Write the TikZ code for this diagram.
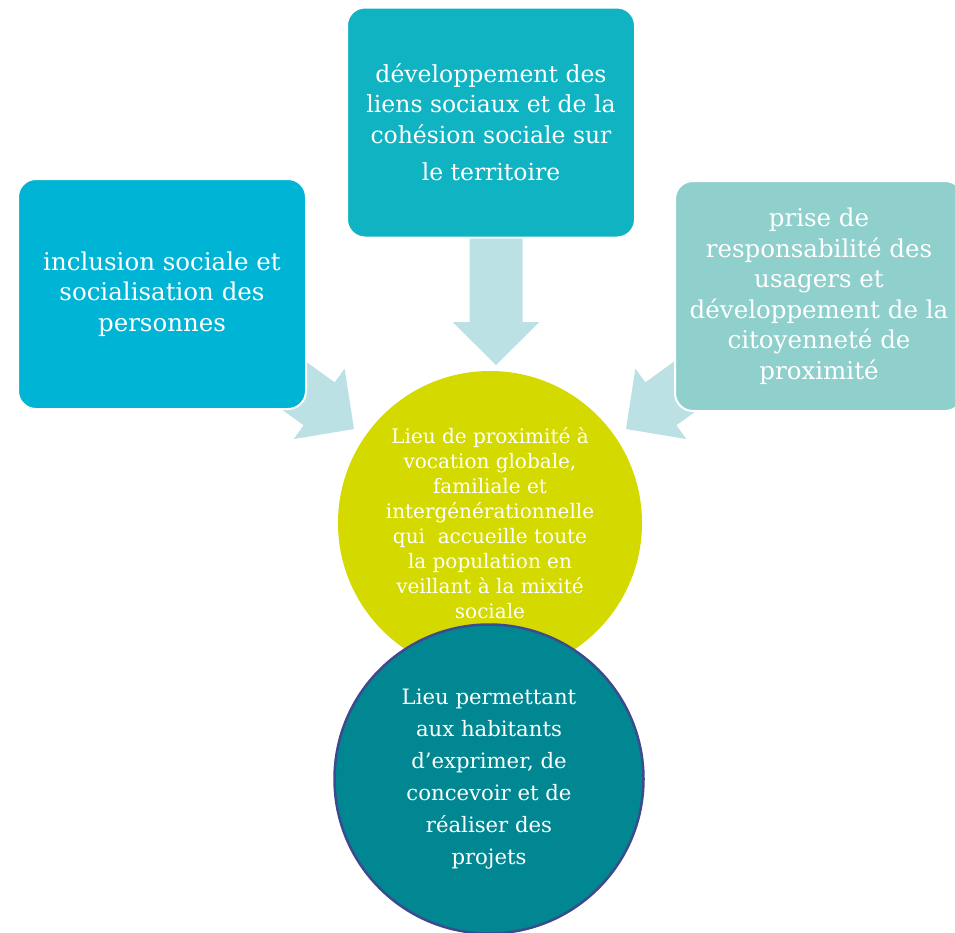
\documentclass[tikz,border=0pt]{standalone}
\usepackage{fontspec}
\setmainfont{DejaVu Serif}
\usetikzlibrary{calc}
\definecolor{inclblue}{HTML}{00B4D6}
\definecolor{lienteal}{HTML}{10B3C2}
\definecolor{citoyengreen}{HTML}{8FCFCC}
\definecolor{arrowlight}{HTML}{BCE1E5}
\definecolor{lieuyellow}{HTML}{D4D900}
\definecolor{projteal}{HTML}{008791}
\definecolor{projborder}{HTML}{3C4B8E}

% broad light arrow: #1 = tail, #2 = tip
\newcommand{\bigarrow}[2]{%
  \coordinate (hb) at ($(#2)!43pt!(#1)$);
  \fill[arrowlight] ($(#1)!26.5pt!90:(#2)$) -- ($(hb)!26.5pt!90:(#2)$)
    -- ($(hb)!43.5pt!90:(#2)$) -- (#2) -- ($(hb)!43.5pt!-90:(#2)$)
    -- ($(hb)!26.5pt!-90:(#2)$) -- ($(#1)!26.5pt!-90:(#2)$) -- cycle;
}

\tikzset{
  topic/.style={rectangle, rounded corners=18pt, draw=white, line width=2pt,
    minimum width=288pt, minimum height=230pt, inner sep=0pt, align=center,
    text=white, font=\fontsize{24.5}{30.5}\selectfont},
  lieu/.style={circle, inner sep=0pt, align=center, text=white}
}

\begin{document}
\begin{tikzpicture}[x=1pt, y=-1pt]
    \useasboundingbox (0,0) rectangle (955,932);

    % Arrows (behind the boxes)
    \coordinate (fromLiens) at (496,230);
    \coordinate (toLiens) at (496,365);
    \coordinate (fromIncl) at (253,356);
    \coordinate (toIncl) at (354,429);
    \coordinate (fromCitoy) at (727,356);
    \coordinate (toCitoy) at (626,429);
    \bigarrow{fromLiens}{toLiens}
    \bigarrow{fromIncl}{toIncl}
    \bigarrow{fromCitoy}{toCitoy}

    % === Boxes ===
    \node[topic, fill=inclblue] (incl) at (162,294)
        {inclusion sociale et\\socialisation des\\personnes};
    \node[topic, fill=lienteal, font=\fontsize{23.5}{30.5}\selectfont] (liens) at (491,122.5)
        {développement des\\liens sociaux et de la\\cohésion sociale sur\\[7pt]le territoire};
    \node[topic, fill=citoyengreen] (citoy) at (819,296)
        {prise de\\responsabilité des\\usagers et\\développement de la\\citoyenneté de\\proximité};

    % === Circles ===
    \node[lieu, fill=lieuyellow, minimum size=304pt, font=\fontsize{20}{25.1}\selectfont] (global) at (490,523)
        {Lieu de proximité à\\vocation globale,\\familiale et\\intergénérationnelle\\qui~ accueille toute\\la population en\\veillant à la mixité\\sociale};
    \node[lieu, fill=projteal, draw=projborder, line width=2.5pt, minimum size=309pt, font=\fontsize{21.2}{32}\selectfont] (projets) at (489,779)
        {Lieu permettant\\aux habitants\\d’exprimer, de\\concevoir et de\\réaliser des\\projets};
\end{tikzpicture}
\end{document}
